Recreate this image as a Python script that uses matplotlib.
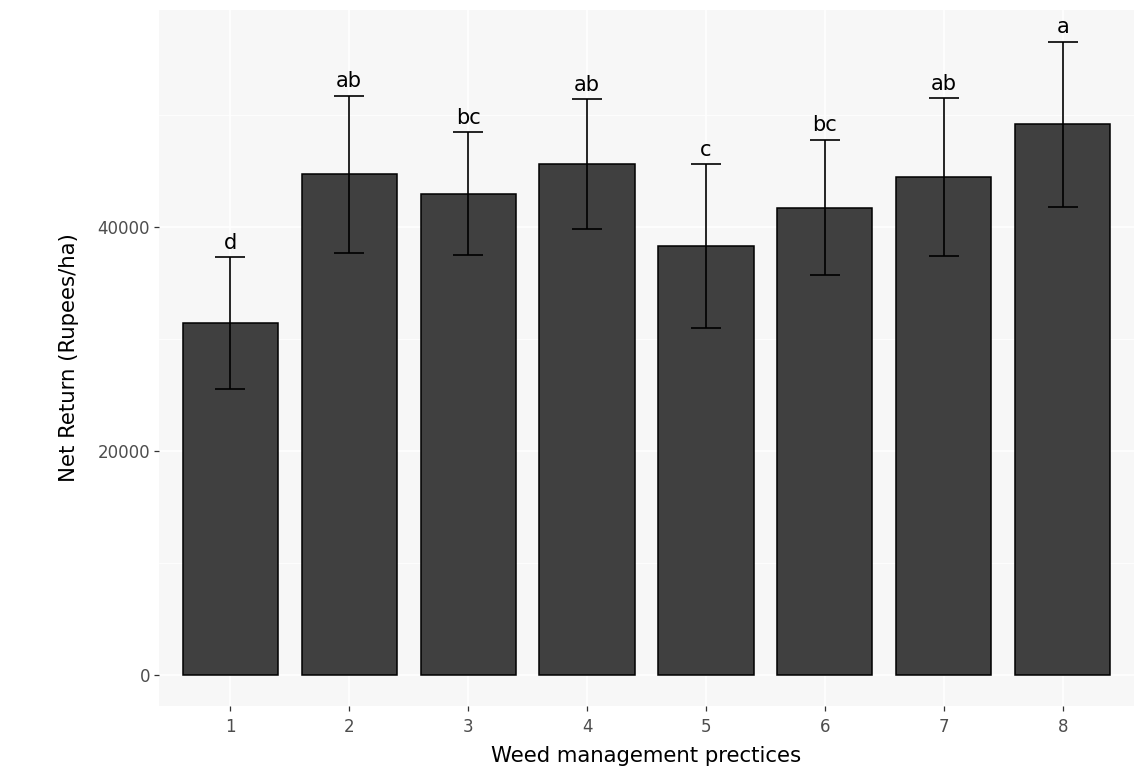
import matplotlib
matplotlib.use("Agg")
import matplotlib.pyplot as plt
import numpy as np
from matplotlib.ticker import FixedLocator

# ---- data ----
practices = [1, 2, 3, 4, 5, 6, 7, 8]
net_return = [31400, 44700, 42950, 45600, 38300, 41700, 44400, 49150]
err = [5900, 7000, 5500, 5800, 7300, 6050, 7050, 7350]
letters = ["d", "ab", "bc", "ab", "c", "bc", "ab", "a"]
y_ticks = [0, 20000, 40000]
y_minor = [10000, 30000, 50000]

plt.rcParams['font.family'] = ['DejaVu Sans']

fig = plt.figure(figsize=(11.39, 7.76), dpi=100)
ax = fig.add_axes([159/1139, 1-706/776, (1134-159)/1139, (706-10)/776])

x = np.array(practices, dtype=float)
m = np.array(net_return, dtype=float)
e = np.array(err, dtype=float)
upper = m + e
lower = m - e

ax.set_facecolor('#F7F7F7')
for s in ax.spines.values():
    s.set_visible(False)

ax.bar(x, m, width=0.8, color='#404040', edgecolor='black', linewidth=1.1, zorder=2)
ax.vlines(x, lower, upper, color='black', linewidth=1.2, zorder=3)
ax.hlines(upper, x - 0.125, x + 0.125, color='black', linewidth=1.2, zorder=3)
ax.hlines(lower, x - 0.125, x + 0.125, color='black', linewidth=1.2, zorder=3)

for xi, ui, lab in zip(x, upper, letters):
    ax.annotate(lab, (xi, ui), xytext=(0, 6), textcoords='offset points',
                ha='center', va='baseline', fontsize=15, color='black', zorder=4)

top = upper.max()
rng = top - 0
ax.set_ylim(0 - 0.0485 * rng, top + 0.05 * rng)
ax.set_xlim(0.4, 8.6)

ax.yaxis.set_major_locator(FixedLocator(y_ticks))
ax.yaxis.set_minor_locator(FixedLocator(y_minor))
ax.set_yticklabels([str(v) for v in y_ticks])
ax.set_xticks(x)
ax.set_xticklabels([str(p) for p in practices])

ax.grid(which='major', color='white', linewidth=1.1, zorder=0)
ax.grid(which='minor', axis='y', color='white', linewidth=0.55, zorder=0)
ax.set_axisbelow(True)

ax.tick_params(axis='both', which='major', length=3.5, width=0.9, color='#333333',
               labelsize=12, labelcolor='#4D4D4D', direction='out')
ax.tick_params(axis='x', pad=5)
ax.tick_params(axis='y', pad=3)
ax.tick_params(axis='y', which='minor', length=0)

fig.text((159 + 1134) / 2 / 1139, 1 - 762 / 776, "Weed management prectices",
         ha='center', va='baseline', fontsize=15.3, color='black')
fig.text(69 / 1139, 1 - 358 / 776, "Net Return (Rupees/ha)", rotation=90,
         ha='center', va='center', fontsize=15.3, color='black')

fig.savefig("out.png", dpi=100, facecolor='white')
